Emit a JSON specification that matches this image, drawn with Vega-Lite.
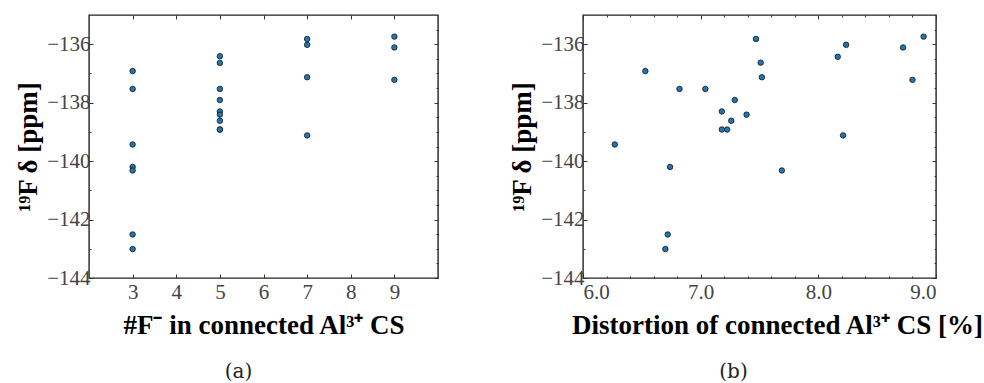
{
  "$schema": "https://vega.github.io/schema/vega-lite/v6.json",
  "padding": {"left": 13, "top": 13, "right": 0, "bottom": 0},
  "background": "white",
  "datasets": {
    "a": [
      {"n": 3, "d": -136.92}, {"n": 3, "d": -137.53}, {"n": 3, "d": -139.43}, {"n": 3, "d": -140.2}, {"n": 3, "d": -140.32}, {"n": 3, "d": -142.51}, {"n": 3, "d": -143.01},
      {"n": 5, "d": -136.41}, {"n": 5, "d": -136.64}, {"n": 5, "d": -137.53}, {"n": 5, "d": -137.91}, {"n": 5, "d": -138.3}, {"n": 5, "d": -138.41}, {"n": 5, "d": -138.62}, {"n": 5, "d": -138.92}, {"n": 5, "d": -138.92},
      {"n": 7, "d": -135.82}, {"n": 7, "d": -136.02}, {"n": 7, "d": -137.13}, {"n": 7, "d": -139.12},
      {"n": 9, "d": -135.74}, {"n": 9, "d": -136.11}, {"n": 9, "d": -137.22}
    ],
    "b": [
      {"dist": 6.27, "d": -139.43}, {"dist": 6.53, "d": -136.92}, {"dist": 6.82, "d": -137.53}, {"dist": 7.04, "d": -137.53},
      {"dist": 7.18, "d": -138.3}, {"dist": 7.18, "d": -138.92}, {"dist": 7.225, "d": -138.92}, {"dist": 7.26, "d": -138.62},
      {"dist": 7.29, "d": -137.91}, {"dist": 7.39, "d": -138.41}, {"dist": 7.47, "d": -135.82}, {"dist": 7.51, "d": -136.63},
      {"dist": 7.52, "d": -137.13}, {"dist": 6.74, "d": -140.2}, {"dist": 6.72, "d": -142.51}, {"dist": 6.7, "d": -143.01},
      {"dist": 7.69, "d": -140.32}, {"dist": 8.165, "d": -136.43}, {"dist": 8.21, "d": -139.12}, {"dist": 8.236, "d": -136.02},
      {"dist": 8.72, "d": -136.11}, {"dist": 8.8, "d": -137.22}, {"dist": 8.895, "d": -135.74}
    ]
  },
  "spacing": 67,
  "hconcat": [
    {
      "width": 349,
      "height": 263,
      "data": {"name": "a"},
      "title": {"text": "(a)", "orient": "bottom", "anchor": "middle", "dx": -25, "offset": 24, "fontSize": 20, "fontWeight": "normal", "font": "DejaVu Serif", "color": "#222"},
      "resolve": {"axis": {"x": "independent", "y": "independent"}},
      "layer": [
        {
          "mark": {"type": "point", "filled": true, "size": 30, "fill": "#1f77b4", "stroke": "#111", "strokeWidth": 0.8, "opacity": 1},
          "encoding": {
            "x": {"field": "n", "type": "quantitative", "scale": {"domain": [2, 10], "nice": false, "zero": false},
                  "axis": {"orient": "bottom", "values": [3, 4, 5, 6, 7, 8, 9], "title": "#F⁻ in connected Al³⁺ CS", "tickSize": -4, "labelPadding": 7, "titlePadding": 10}},
            "y": {"field": "d", "type": "quantitative", "scale": {"domain": [-144, -135], "nice": false, "zero": false},
                  "axis": {"orient": "left", "values": [-144, -143.5, -143, -142.5, -142, -141.5, -141, -140.5, -140, -139.5, -139, -138.5, -138, -137.5, -137, -136.5, -136, -135.5],
                           "labelExpr": "datum.value % 2 === 0 ? datum.label : ''", "format": "d",
                           "tickSize": {"condition": {"test": "datum.value % 2 === 0", "value": -4}, "value": -2},
                           "title": "¹⁹F δ [ppm]", "labelPadding": 3, "titlePadding": 4}}
          }
        },
        {
          "mark": {"type": "point", "opacity": 0},
          "encoding": {
            "x": {"field": "n", "type": "quantitative", "axis": {"orient": "top", "values": [3, 4, 5, 6, 7, 8, 9], "labels": false, "title": null, "tickSize": -4}},
            "y": {"field": "d", "type": "quantitative",
                  "axis": {"orient": "right", "values": [-144, -143.5, -143, -142.5, -142, -141.5, -141, -140.5, -140, -139.5, -139, -138.5, -138, -137.5, -137, -136.5, -136, -135.5],
                           "labels": false, "title": null,
                           "tickSize": {"condition": {"test": "datum.value % 2 === 0", "value": -4}, "value": -2}}}
          }
        }
      ]
    },
    {
      "width": 353,
      "height": 263,
      "data": {"name": "b"},
      "title": {"text": "(b)", "orient": "bottom", "anchor": "middle", "dx": -26, "offset": 24, "fontSize": 20, "fontWeight": "normal", "font": "DejaVu Serif", "color": "#222"},
      "resolve": {"axis": {"x": "independent", "y": "independent"}},
      "layer": [
        {
          "mark": {"type": "point", "filled": true, "size": 30, "fill": "#1f77b4", "stroke": "#111", "strokeWidth": 0.8, "opacity": 1},
          "encoding": {
            "x": {"field": "dist", "type": "quantitative", "scale": {"domain": [6, 9], "nice": false, "zero": false},
                  "axis": {"orient": "bottom", "values": [6, 6.2, 6.4, 6.6, 6.8, 7, 7.2, 7.4, 7.6, 7.8, 8, 8.2, 8.4, 8.6, 8.8, 9], "format": ".1f",
                           "labelExpr": "abs(datum.value - round(datum.value)) < 0.001 ? datum.label : ''",
                           "tickSize": {"condition": {"test": "abs(datum.value - round(datum.value)) < 0.001", "value": -4}, "value": -2},
                           "title": "Distortion of connected Al³⁺ CS [%]", "titleX": 194, "labelPadding": 7, "titlePadding": 10}},
            "y": {"field": "d", "type": "quantitative", "scale": {"domain": [-144, -135], "nice": false, "zero": false},
                  "axis": {"orient": "left", "values": [-144, -143.5, -143, -142.5, -142, -141.5, -141, -140.5, -140, -139.5, -139, -138.5, -138, -137.5, -137, -136.5, -136, -135.5],
                           "labelExpr": "datum.value % 2 === 0 ? datum.label : ''", "format": "d",
                           "tickSize": {"condition": {"test": "datum.value % 2 === 0", "value": -4}, "value": -2},
                           "title": "¹⁹F δ [ppm]", "labelPadding": 3, "titlePadding": 4}}
          }
        },
        {
          "mark": {"type": "point", "opacity": 0},
          "encoding": {
            "x": {"field": "dist", "type": "quantitative",
                  "axis": {"orient": "top", "values": [6, 6.2, 6.4, 6.6, 6.8, 7, 7.2, 7.4, 7.6, 7.8, 8, 8.2, 8.4, 8.6, 8.8, 9], "labels": false, "title": null,
                           "tickSize": {"condition": {"test": "abs(datum.value - round(datum.value)) < 0.001", "value": -4}, "value": -2}}},
            "y": {"field": "d", "type": "quantitative",
                  "axis": {"orient": "right", "values": [-144, -143.5, -143, -142.5, -142, -141.5, -141, -140.5, -140, -139.5, -139, -138.5, -138, -137.5, -137, -136.5, -136, -135.5],
                           "labels": false, "title": null,
                           "tickSize": {"condition": {"test": "datum.value % 2 === 0", "value": -4}, "value": -2}}}
          }
        }
      ]
    }
  ],
  "config": {
    "font": "Liberation Serif",
    "view": {"stroke": "#222", "strokeWidth": 1.4},
    "axis": {
      "domain": false, "grid": false,
      "tickColor": "#333", "tickWidth": 1,
      "labelFont": "Liberation Serif", "labelFontSize": 21, "labelColor": "#444",
      "titleFont": "Liberation Serif", "titleFontSize": 27, "titleFontWeight": "bold", "titleColor": "#000"
    }
  }
}
